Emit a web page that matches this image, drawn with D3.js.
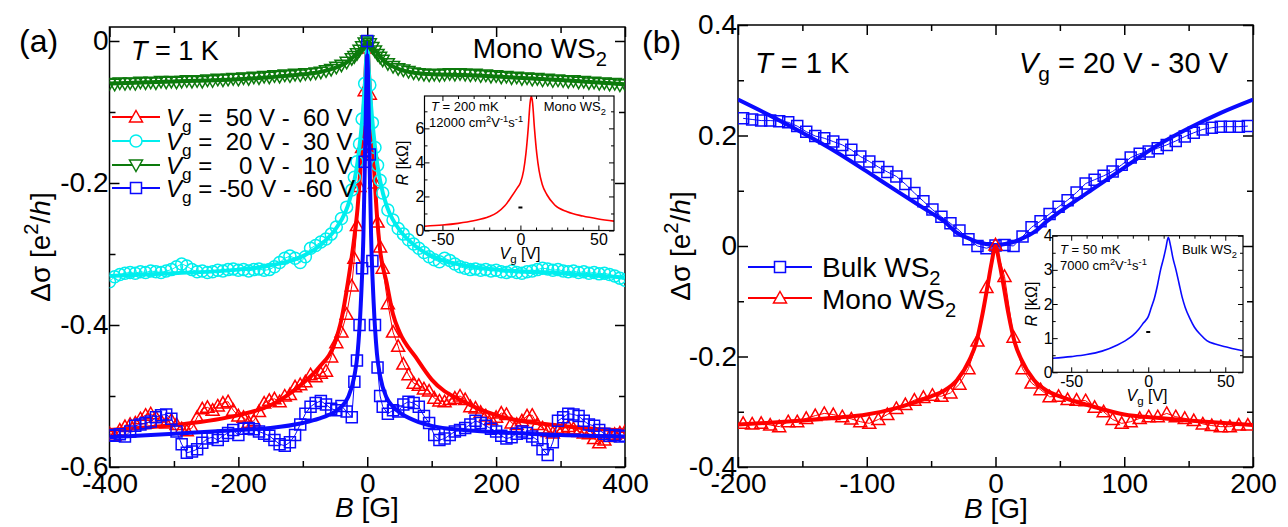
<!DOCTYPE html>
<html>
<head>
<meta charset="utf-8">
<script src="https://cdn.jsdelivr.net/npm/d3@7.9.0/dist/d3.min.js"></script>
<style>
  html, body { margin: 0; padding: 0; background: #fff; }
  svg { display: block; }
</style>
</head>
<body>
<svg id="fig" width="1288" height="527"></svg>
<script>
// ---------- panel (a) data : B grid is 8 G apart, 4 G near zero ----------
const bGridA = [...d3.range(-400, -23, 8), ...d3.range(-20, 21, 4), ...d3.range(24, 401, 8)];

const redA = [
  -0.553,-0.556,-0.548,-0.543,-0.540,-0.538,-0.532,-0.527,-0.525,-0.530,
  -0.535,-0.538,-0.534,-0.540,-0.546,-0.549,-0.545,-0.530,-0.518,-0.516,
  -0.520,-0.514,-0.510,-0.508,-0.520,-0.528,-0.530,-0.537,-0.535,-0.522,
  -0.510,-0.506,-0.504,-0.508,-0.500,-0.498,-0.487,-0.484,-0.480,-0.470,
  -0.473,-0.468,-0.465,-0.445,-0.425,-0.410,-0.385,-0.345,
  -0.306,-0.260,-0.205,-0.150,-0.070,-0.010,-0.075,-0.160,-0.200,-0.255,-0.290,
  -0.320,-0.370,-0.410,-0.430,-0.455,-0.470,-0.482,-0.485,-0.490,-0.493,
  -0.503,-0.507,-0.508,-0.505,-0.503,-0.500,-0.505,-0.515,-0.517,-0.523,
  -0.528,-0.533,-0.530,-0.524,-0.526,-0.538,-0.540,-0.535,-0.528,-0.527,
  -0.540,-0.545,-0.550,-0.552,-0.548,-0.545,-0.543,-0.546,-0.550,-0.552,
  -0.553,-0.560,-0.566,-0.562,-0.557,-0.554,-0.552,-0.550
];
const cyanA = [
  -0.339,-0.332,-0.329,-0.327,-0.326,-0.327,-0.325,-0.326,-0.324,-0.325,
  -0.326,-0.324,-0.322,-0.318,-0.314,-0.317,-0.322,-0.325,-0.324,-0.326,
  -0.325,-0.323,-0.324,-0.322,-0.321,-0.323,-0.322,-0.324,-0.322,-0.321,
  -0.323,-0.322,-0.318,-0.312,-0.306,-0.303,-0.306,-0.312,-0.304,-0.292,
  -0.288,-0.283,-0.279,-0.272,-0.262,-0.250,-0.234,-0.210,
  -0.192,-0.170,-0.145,-0.110,-0.060,-0.003,-0.062,-0.115,-0.150,-0.175,-0.196,
  -0.214,-0.238,-0.252,-0.264,-0.272,-0.280,-0.286,-0.292,-0.298,-0.304,
  -0.308,-0.311,-0.306,-0.309,-0.314,-0.318,-0.320,-0.322,-0.321,-0.323,
  -0.322,-0.324,-0.323,-0.325,-0.326,-0.324,-0.326,-0.327,-0.325,-0.324,
  -0.322,-0.320,-0.321,-0.323,-0.322,-0.324,-0.325,-0.324,-0.326,-0.325,
  -0.327,-0.326,-0.328,-0.327,-0.329,-0.331,-0.334,-0.337
];
const greenA = [
  -0.060,-0.061,-0.059,-0.060,-0.059,-0.060,-0.058,-0.059,-0.058,-0.059,
  -0.057,-0.058,-0.057,-0.058,-0.057,-0.056,-0.057,-0.056,-0.057,-0.055,
  -0.056,-0.054,-0.055,-0.054,-0.053,-0.054,-0.052,-0.053,-0.051,-0.052,
  -0.050,-0.051,-0.049,-0.050,-0.048,-0.049,-0.047,-0.048,-0.046,-0.046,
  -0.045,-0.044,-0.042,-0.040,-0.037,-0.034,-0.030,-0.025,
  -0.022,-0.018,-0.013,-0.008,-0.003,0.000,-0.004,-0.009,-0.014,-0.019,-0.023,
  -0.027,-0.032,-0.036,-0.039,-0.041,-0.043,-0.045,-0.046,-0.047,-0.048,
  -0.047,-0.048,-0.047,-0.046,-0.047,-0.046,-0.047,-0.048,-0.047,-0.049,
  -0.048,-0.050,-0.049,-0.051,-0.050,-0.052,-0.051,-0.053,-0.052,-0.054,
  -0.053,-0.055,-0.054,-0.056,-0.055,-0.056,-0.057,-0.056,-0.058,-0.057,
  -0.059,-0.058,-0.060,-0.059,-0.061,-0.060,-0.062,-0.061
];
const blueA = [
  -0.555,-0.556,-0.554,-0.557,-0.550,-0.542,-0.540,-0.538,-0.536,-0.530,
  -0.527,-0.526,-0.532,-0.550,-0.568,-0.580,-0.578,-0.575,-0.566,-0.560,
  -0.558,-0.562,-0.556,-0.552,-0.548,-0.555,-0.546,-0.545,-0.547,-0.550,
  -0.553,-0.556,-0.562,-0.568,-0.570,-0.565,-0.555,-0.540,-0.525,-0.515,
  -0.510,-0.507,-0.512,-0.518,-0.520,-0.514,-0.522,-0.530,
  -0.480,-0.450,-0.400,-0.320,-0.170,0.000,-0.160,-0.310,-0.400,-0.460,-0.500,
  -0.515,-0.525,-0.520,-0.522,-0.512,-0.508,-0.510,-0.515,-0.528,-0.538,
  -0.555,-0.562,-0.560,-0.555,-0.550,-0.548,-0.545,-0.540,-0.535,-0.538,
  -0.542,-0.546,-0.550,-0.556,-0.560,-0.558,-0.553,-0.550,-0.552,-0.557,
  -0.562,-0.575,-0.583,-0.565,-0.535,-0.530,-0.525,-0.526,-0.528,-0.535,
  -0.540,-0.542,-0.548,-0.553,-0.556,-0.555,-0.557,-0.556
];

// fitted curves, panel (a)
const fitBA = [-400,-300,-200,-150,-100,-75,-50,-40,-30,-20,-15,-10,-6,-3,0,3,6,10,15,20,30,40,50,75,100,150,200,300,400];
const redFitA   = [-0.548,-0.541,-0.527,-0.513,-0.482,-0.460,-0.424,-0.392,-0.340,-0.276,-0.235,-0.170,-0.105,-0.050,-0.005,
                   -0.050,-0.105,-0.170,-0.245,-0.295,-0.340,-0.385,-0.410,-0.445,-0.477,-0.508,-0.527,-0.542,-0.549];
const cyanFitA  = [-0.331,-0.327,-0.322,-0.316,-0.303,-0.289,-0.266,-0.252,-0.232,-0.197,-0.170,-0.132,-0.092,-0.052,-0.005,
                   -0.052,-0.092,-0.132,-0.170,-0.197,-0.232,-0.252,-0.266,-0.289,-0.303,-0.316,-0.322,-0.327,-0.333];
const greenFitA = [-0.060,-0.057,-0.054,-0.051,-0.047,-0.044,-0.038,-0.034,-0.029,-0.021,-0.016,-0.011,-0.006,-0.003,0.000,
                   -0.003,-0.006,-0.011,-0.016,-0.022,-0.031,-0.036,-0.040,-0.045,-0.047,-0.048,-0.050,-0.055,-0.061];
const blueFitA  = [-0.558,-0.553,-0.548,-0.545,-0.538,-0.532,-0.522,-0.515,-0.502,-0.472,-0.440,-0.370,-0.275,-0.140,-0.020,
                   -0.140,-0.275,-0.370,-0.440,-0.472,-0.502,-0.515,-0.523,-0.535,-0.542,-0.548,-0.551,-0.555,-0.557];

const legendA = [
  ['Vg', ' =  50 V -  60 V'],
  ['Vg', ' =  20 V -  30 V'],
  ['Vg', ' =    0 V -  10 V'],
  ['Vg', ' = -50 V - -60 V']
];

// inset (a): R(Vg), mono WS2, T = 200 mK
const insetA = [[-61.5,0.25],[-50,0.32],[-40,0.42],[-30,0.57],[-20,0.82],[-15,1.05],[-10,1.45],[-6,1.95],[-2,2.5],
  [0,2.8],[2,3.5],[3.5,4.5],[5,6.0],[6.2,7.5],[7,7.9],[7.8,7.5],[9,6.0],[10.5,4.5],[12,3.5],[14,2.7],[17,2.1],
  [22,1.5],[30,1.1],[40,0.85],[50,0.68],[60,0.55]];
const insetDotA = [0, 1.35];

// ---------- panel (b) data ----------
const bGridB = d3.range(-196, 197, 7);
const bulkB = [
  0.231,0.229,0.227,0.227,0.226,0.224,0.217,0.207,0.199,0.195,
  0.189,0.183,0.174,0.162,0.153,0.143,0.134,0.126,0.112,0.096,
  0.081,0.066,0.053,0.041,0.028,0.012,0.000,-0.004,0.001,0.002,
  0.000,0.017,0.034,0.045,0.058,0.071,0.083,0.097,0.113,0.120,
  0.127,0.135,0.147,0.160,0.167,0.171,0.177,0.183,0.190,0.198,
  0.205,0.211,0.214,0.216,0.216,0.216,0.217
];
const monoB = [
  -0.321,-0.322,-0.321,-0.324,-0.327,-0.318,-0.318,-0.312,-0.307,-0.303,
  -0.305,-0.309,-0.313,-0.318,-0.321,-0.314,-0.305,-0.294,-0.287,-0.279,
  -0.274,-0.270,-0.272,-0.266,-0.250,-0.222,-0.172,-0.075,0.002,-0.055,
  -0.165,-0.222,-0.248,-0.260,-0.273,-0.272,-0.278,-0.279,-0.280,-0.292,
  -0.300,-0.314,-0.321,-0.318,-0.312,-0.309,-0.309,-0.303,-0.309,-0.312,
  -0.316,-0.322,-0.325,-0.327,-0.327,-0.324,-0.324
];
const fitBB = [-200,-175,-150,-125,-100,-75,-50,-40,-30,-20,-15,-10,-6,-3,0,3,6,10,15,20,30,40,50,75,100,125,150,175,200];
const bulkFitB = [0.265,0.236,0.205,0.172,0.135,0.097,0.060,0.045,0.024,0.013,0.008,0.005,0.003,0.002,0.002,
                  0.002,0.003,0.005,0.008,0.013,0.025,0.045,0.062,0.102,0.142,0.181,0.213,0.241,0.265];
const monoFitB = [-0.323,-0.320,-0.316,-0.311,-0.305,-0.292,-0.272,-0.262,-0.243,-0.205,-0.175,-0.122,-0.070,-0.030,0.000,
                  -0.030,-0.068,-0.122,-0.175,-0.205,-0.243,-0.262,-0.272,-0.290,-0.305,-0.311,-0.316,-0.320,-0.324];

// inset (b): R(Vg), bulk WS2, T = 50 mK
const insetB = [[-62,0.41],[-50,0.46],[-40,0.52],[-30,0.62],[-20,0.8],[-15,0.92],[-10,1.08],[-6,1.27],[-3,1.45],
  [0,1.63],[2,1.9],[4,2.17],[6,2.55],[8,3.0],[10,3.35],[11.5,3.65],[13,3.95],[14.5,3.7],[16,3.35],[18,3.0],
  [20,2.6],[22,2.2],[24,1.9],[27,1.58],[30,1.32],[34,1.1],[38,0.93],[44,0.82],[50,0.75],[56,0.68],[61.5,0.63]];
const insetDotB = [0, 1.18];

// ---------- drawing ----------
const FONT = '"Liberation Sans", Arial, Helvetica, sans-serif';
const RED = '#ff0000', CYAN = '#00eeee', GREEN = '#0c7a0c', BLUE = '#0a0aff';

const svg = d3.select('#fig').attr('font-family', FONT);

const shapes = {
  up: 'M0,-6.5L6.5,5L-6.5,5Z',
  down: 'M0,6.5L6.5,-5L-6.5,-5Z',
  square: 'M-5.5,-5.5H5.5V5.5H-5.5Z',
  circle: 'M6,0A6,6 0 1,1 -6,0A6,6 0 1,1 6,0Z'
};

// text with italic / sub / sup pieces
function rich(parent, x, y, parts, size, anchor) {
  const t = parent.append('text').attr('x', x).attr('y', y)
    .attr('font-size', size).attr('text-anchor', anchor || 'start')
    .attr('fill', '#000').style('white-space', 'pre');
  let shift = 0;
  parts.forEach(p => {
    const [s, st] = typeof p === 'string' ? [p, ''] : p;
    const ts = t.append('tspan').text(s);
    let target = 0;
    if (st === 'sub') { target = size * 0.28; ts.attr('font-size', size * 0.72); }
    if (st === 'sup') { target = -size * 0.42; ts.attr('font-size', size * 0.72); }
    if (st === 'i') ts.attr('font-style', 'italic');
    if (target !== shift) { ts.attr('dy', target - shift); shift = target; }
  });
  return t;
}

function rotated(parent, x, y, parts, size) {
  const g = parent.append('g').attr('transform', `translate(${x},${y}) rotate(-90)`);
  rich(g, 0, 0, parts, size, 'middle');
}

function axes(g, x, y, o) {
  const [yb, yt] = y.range();
  const [xl, xr] = x.range();
  const none = () => '';
  const mk = (axis, tr, vals, len, fmt, pad) => {
    const a = g.append('g').attr('transform', tr)
      .call(axis.tickValues(vals).tickSizeInner(-len).tickSizeOuter(0).tickPadding(pad).tickFormat(fmt));
    a.select('.domain').remove();
    a.attr('font-family', FONT).attr('font-size', o.fs);
    a.selectAll('line').attr('stroke', '#000').attr('stroke-width', o.sw);
    a.selectAll('text').attr('fill', '#000');
  };
  mk(d3.axisBottom(x), `translate(0,${yb})`, o.xMaj, o.maj, o.xFmt, o.xPad);
  mk(d3.axisBottom(x), `translate(0,${yb})`, o.xMin, o.min, none, 0);
  mk(d3.axisTop(x), `translate(0,${yt})`, o.xMaj, o.maj, none, 0);
  mk(d3.axisTop(x), `translate(0,${yt})`, o.xMin, o.min, none, 0);
  mk(d3.axisLeft(y), `translate(${xl},0)`, o.yMaj, o.maj, o.yFmt, o.yPad);
  mk(d3.axisLeft(y), `translate(${xl},0)`, o.yMin, o.min, none, 0);
  mk(d3.axisRight(y), `translate(${xr},0)`, o.yMaj, o.maj, none, 0);
  mk(d3.axisRight(y), `translate(${xr},0)`, o.yMin, o.min, none, 0);
  g.append('rect').attr('x', xl).attr('y', yt).attr('width', xr - xl).attr('height', yb - yt)
    .attr('fill', 'none').attr('stroke', '#000').attr('stroke-width', o.frame);
}

function clipFor(id, x, y) {
  const [xl, xr] = x.range(), [yb, yt] = y.range();
  svg.append('clipPath').attr('id', id).append('rect')
    .attr('x', xl).attr('y', yt).attr('width', xr - xl).attr('height', yb - yt);
  return svg.append('g').attr('clip-path', `url(#${id})`);
}

function series(g, x, y, xs, vals, fx, fvals, color, shape) {
  const pts = vals.map((v, i) => [xs[i], v]);
  g.append('path').attr('d', d3.line().x(d => x(d[0])).y(d => y(d[1]))(pts))
    .attr('fill', 'none').attr('stroke', color).attr('stroke-width', 1);
  g.selectAll(null).data(pts).join('path')
    .attr('d', shapes[shape])
    .attr('transform', d => `translate(${x(d[0])},${y(d[1])})`)
    .attr('fill', 'none').attr('stroke', color).attr('stroke-width', 1.5);
  const fit = fvals.map((v, i) => [fx[i], v]);
  g.append('path').attr('d', d3.line().x(d => x(d[0])).y(d => y(d[1])).curve(d3.curveMonotoneX)(fit))
    .attr('fill', 'none').attr('stroke', color).attr('stroke-width', 4);
}

function legendRow(g, x0, x1, y, color, shape) {
  g.append('line').attr('x1', x0).attr('x2', x1).attr('y1', y).attr('y2', y)
    .attr('stroke', color).attr('stroke-width', 2);
  g.append('path').attr('d', shapes[shape]).attr('transform', `translate(${(x0 + x1) / 2},${y})`)
    .attr('fill', '#fff').attr('stroke', color).attr('stroke-width', 1.5);
}

function inset(g, x, y, curve, dot, color, o) {
  const [xl, xr] = x.range(), [yb, yt] = y.range();
  g.append('rect').attr('x', xl).attr('y', yt).attr('width', xr - xl).attr('height', yb - yt).attr('fill', '#fff');
  const id = o.id;
  svg.append('clipPath').attr('id', id).append('rect')
    .attr('x', xl).attr('y', yt).attr('width', xr - xl).attr('height', yb - yt);
  const c = g.append('g').attr('clip-path', `url(#${id})`);
  c.append('path').attr('d', d3.line().x(d => x(d[0])).y(d => y(d[1])).curve(d3.curveMonotoneX)(curve))
    .attr('fill', 'none').attr('stroke', color).attr('stroke-width', 1.6);
  c.append('line').attr('x1', x(dot[0]) - 2).attr('x2', x(dot[0]) + 2)
    .attr('y1', y(dot[1])).attr('y2', y(dot[1])).attr('stroke', '#000').attr('stroke-width', 2);
  axes(g, x, y, o);
}

const fmt1 = d => String(+(+d).toFixed(1));
const fmt0 = d => String(d);

// ===== panel (a) =====
const xA = d3.scaleLinear([-400, 400], [109.5, 625]);
const yA = d3.scaleLinear([-0.6, 0.0197], [467, 27]);
const gA = svg.append('g');
const cA = clipFor('clipA', xA, yA);
series(cA, xA, yA, bGridA, redA, fitBA, redFitA, RED, 'up');
series(cA, xA, yA, bGridA, cyanA, fitBA, cyanFitA, CYAN, 'circle');
series(cA, xA, yA, bGridA, greenA, fitBA, greenFitA, GREEN, 'down');
series(cA, xA, yA, bGridA, blueA, fitBA, blueFitA, BLUE, 'square');
axes(gA, xA, yA, {
  xMaj: [-400, -200, 0, 200, 400], xMin: [-300, -100, 100, 300],
  yMaj: [-0.6, -0.4, -0.2, 0], yMin: [-0.5, -0.3, -0.1],
  maj: 10, min: 6, fs: 28, sw: 1.5, frame: 1.5, xPad: 6, yPad: 1, xFmt: fmt0, yFmt: fmt1
});

const legA = svg.append('g');
const legColors = [RED, CYAN, GREEN, BLUE], legShapes = ['up', 'circle', 'down', 'square'];
[117, 141, 165, 188].forEach((yy, i) => {
  legendRow(legA, 112, 160, yy, legColors[i], legShapes[i]);
  rich(legA, 166, yy + 8.5, [['V', 'i'], ['g', 'sub'], legendA[i][1]], 24);
});

const xIA = d3.scaleLinear([-61.5, 60], [424.5, 614]);
const yIA = d3.scaleLinear([0, 7.9], [230.5, 96]);
const gIA = svg.append('g');
inset(gIA, xIA, yIA, insetA, insetDotA, RED, {
  id: 'clipIA',
  xMaj: [-50, 0, 50], xMin: [-40, -30, -20, -10, 10, 20, 30, 40],
  yMaj: [0, 2, 4, 6], yMin: [1, 3, 5, 7],
  maj: 5, min: 3, fs: 16, sw: 1, frame: 1.2, xPad: 3, yPad: 0, xFmt: fmt0, yFmt: fmt0
});
rich(gIA, 431, 111, [['T', 'i'], ' = 200 mK'], 13);
rich(gIA, 429, 127, ['12000 cm', ['2', 'sup'], 'V', ['-1', 'sup'], 's', ['-1', 'sup']], 13);
rich(gIA, 606, 111, ['Mono WS', ['2', 'sub']], 13, 'end');
rich(gIA, 520, 259, [['V', 'i'], ['g', 'sub'], ' [V]'], 16, 'middle');
rotated(gIA, 408, 163, [['R', 'i'], ' [kΩ]'], 16);

rich(svg, 19, 52, ['(a)'], 32);
rich(svg, 131, 60, [['T', 'i'], ' = 1 K'], 27);
rich(svg, 607, 58, ['Mono WS', ['2', 'sub']], 28, 'end');
rich(svg, 367, 517, [['B', 'i'], ' [G]'], 28, 'middle');
rotated(svg, 50, 247, ['Δσ [e', ['2', 'sup'], '/', ['h', 'i'], ']'], 28);

// ===== panel (b) =====
const xB = d3.scaleLinear([-200, 200], [738, 1253]);
const yB = d3.scaleLinear([-0.4, 0.4], [467, 25]);
const gB = svg.append('g');
const cB = clipFor('clipB', xB, yB);
series(cB, xB, yB, bGridB, bulkB, fitBB, bulkFitB, BLUE, 'square');
series(cB, xB, yB, bGridB, monoB, fitBB, monoFitB, RED, 'up');
axes(gB, xB, yB, {
  xMaj: [-200, -100, 0, 100, 200], xMin: [-150, -50, 50, 150],
  yMaj: [-0.4, -0.2, 0, 0.2, 0.4], yMin: [-0.3, -0.1, 0.1, 0.3],
  maj: 10, min: 6, fs: 28, sw: 1.5, frame: 1.5, xPad: 6, yPad: 1, xFmt: fmt0, yFmt: fmt1
});

const legB = svg.append('g');
legendRow(legB, 748, 812, 267, BLUE, 'square');
rich(legB, 822, 277, ['Bulk WS', ['2', 'sub']], 28);
legendRow(legB, 748, 812, 298, RED, 'up');
rich(legB, 822, 309, ['Mono WS', ['2', 'sub']], 28);

const xIB = d3.scaleLinear([-62, 61.5], [1052.7, 1243]);
const yIB = d3.scaleLinear([0, 4], [372.3, 235.7]);
const gIB = svg.append('g');
inset(gIB, xIB, yIB, insetB, insetDotB, BLUE, {
  id: 'clipIB',
  xMaj: [-50, 0, 50], xMin: [-40, -30, -20, -10, 10, 20, 30, 40],
  yMaj: [0, 1, 2, 3, 4], yMin: [0.5, 1.5, 2.5, 3.5],
  maj: 5, min: 3, fs: 16, sw: 1, frame: 1.2, xPad: 3, yPad: 0, xFmt: fmt0, yFmt: fmt0
});
rich(gIB, 1060, 254, [['T', 'i'], ' = 50 mK'], 13);
rich(gIB, 1060, 270, ['7000 cm', ['2', 'sup'], 'V', ['-1', 'sup'], 's', ['-1', 'sup']], 13);
rich(gIB, 1237, 254, ['Bulk WS', ['2', 'sub']], 13, 'end');
rich(gIB, 1147, 401, [['V', 'i'], ['g', 'sub'], ' [V]'], 16, 'middle');
rotated(gIB, 1037, 304, [['R', 'i'], ' [kΩ]'], 16);

rich(svg, 642, 53, ['(b)'], 32);
rich(svg, 755, 73, [['T', 'i'], ' = 1 K'], 29);
rich(svg, 1228, 73, [['V', 'i'], ['g', 'sub'], ' = 20 V - 30 V'], 29, 'end');
rich(svg, 996, 518, [['B', 'i'], ' [G]'], 28, 'middle');
rotated(svg, 690, 246, ['Δσ [e', ['2', 'sup'], '/', ['h', 'i'], ']'], 28);
</script>
</body>
</html>
